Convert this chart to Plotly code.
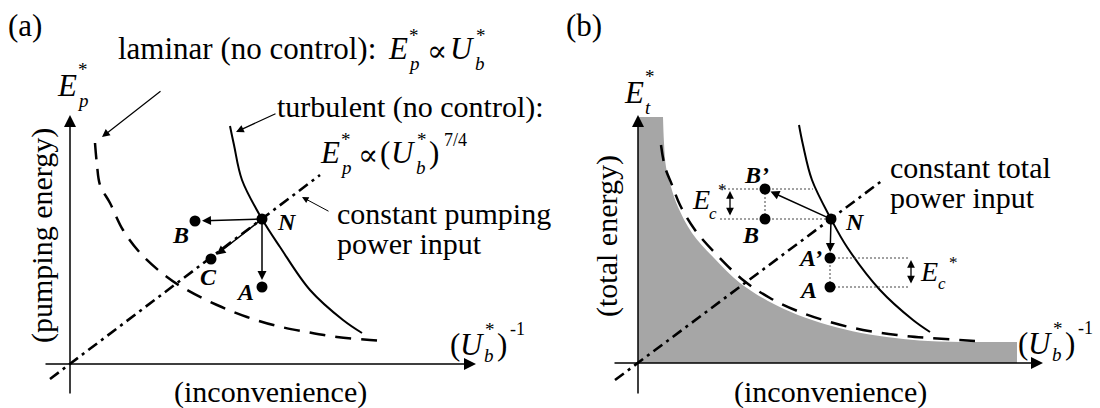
import plotly.graph_objects as go

W, H = 1100, 408
SERIF = "Liberation Serif, Times New Roman, DejaVu Serif, serif"

# ---------------- Panel (a): pumping energy vs inconvenience (schematic units) ----------------
lam_a_x = [25, 27, 30, 40, 53, 72, 97, 117, 147, 177, 207, 237, 267, 300, 313]
lam_a_y = [221, 199, 179, 161, 134, 109, 87, 74, 59, 47, 38, 32, 27, 24, 23]
turb_a_x = [160, 164, 172, 192, 210, 240, 273, 292]
turb_a_y = [238, 219, 184, 145, 117, 74, 44, 31]
cpp_x = [-20, 250]
cpp_y = [-15, 189]
pts_a_names = ["N", "B", "C", "A"]
pts_a_x = [192, 125, 141, 192]
pts_a_y = [145, 143, 105, 77]

# ---------------- Panel (b): total energy vs inconvenience ----------------
lam_b_x = [23, 27, 34, 42, 57, 79, 105, 132, 162, 192, 225, 259, 292, 337]
lam_b_y = [218, 196, 178, 158, 133, 108, 83, 65, 51, 41, 33, 28, 25, 22]
feas_x = [25, 26, 28, 33, 40, 54, 76, 102, 130, 160, 190, 223, 257, 290, 335, 379]
feas_y = [246, 220, 196, 176, 156, 130, 105, 80, 62, 48, 38, 30, 25, 22, 21, 21]
feas_top_x = [0, 25]
feas_top_y = [246, 246]
turb_b_x = [161, 165, 174, 193, 209, 242, 275, 292]
turb_b_y = [238, 218, 183, 144, 116, 73, 43, 31]
ctp_x = [-23, 245]
ctp_y = [-17, 183]
pts_b_names = ["N", "B", "B’", "A’", "A"]
pts_b_x = [193, 127, 127, 192, 192]
pts_b_y = [144, 144, 174, 105, 76]
# dotted guide segments (x0, x1, y0, y1)
guides_b = [(82, 175, 174, 174), (82, 193, 144, 144), (192, 270, 105, 105),
            (192, 270, 76, 76), (127, 127, 144, 174), (192, 192, 76, 105)]
# E_c* double arrows (x, y0, y1)
ec_arrows = [(92, 146, 172), (273, 78, 103)]

fig = go.Figure()

def line(x, y, xa, ya, dash="solid", width=2, shape="spline"):
    fig.add_trace(go.Scatter(x=x, y=y, xaxis=xa, yaxis=ya, mode="lines",
                             line=dict(color="black", width=width, dash=dash, shape=shape),
                             hoverinfo="skip", showlegend=False))

# gray feasible region (b)
fig.add_trace(go.Scatter(x=feas_top_x, y=feas_top_y, xaxis="x2", yaxis="y2", mode="lines",
                         line=dict(width=0, color="#a6a6a6"), fill="tozeroy",
                         fillcolor="#a6a6a6", showlegend=False, hoverinfo="skip"))
fig.add_trace(go.Scatter(x=feas_x, y=feas_y, xaxis="x2", yaxis="y2", mode="lines",
                         line=dict(width=0, color="#a6a6a6", shape="spline"), fill="tozeroy",
                         fillcolor="#a6a6a6", showlegend=False, hoverinfo="skip"))

DASH = "16px,10px"
DASHDOT = "11px,5px,3px,5px"

line(lam_a_x, lam_a_y, "x", "y", dash=DASH, width=2.5)
line(turb_a_x, turb_a_y, "x", "y", width=2)
line(cpp_x, cpp_y, "x", "y", dash=DASHDOT, width=2.6, shape="linear")

line(lam_b_x, lam_b_y, "x2", "y2", dash=DASH, width=2.5)
line(turb_b_x, turb_b_y, "x2", "y2", width=2)
line(ctp_x, ctp_y, "x2", "y2", dash=DASHDOT, width=2.6, shape="linear")

for x0, x1, y0, y1 in guides_b:
    fig.add_trace(go.Scatter(x=[x0, x1], y=[y0, y1], xaxis="x2", yaxis="y2", mode="lines",
                             line=dict(color="#444", width=1, dash="2px,2px"),
                             showlegend=False, hoverinfo="skip"))

fig.add_trace(go.Scatter(x=pts_a_x, y=pts_a_y, xaxis="x", yaxis="y", mode="markers",
                         marker=dict(color="black", size=11), showlegend=False, hoverinfo="skip"))
fig.add_trace(go.Scatter(x=pts_b_x, y=pts_b_y, xaxis="x2", yaxis="y2", mode="markers",
                         marker=dict(color="black", size=11), showlegend=False, hoverinfo="skip"))

ann = []

def P(px, py):
    return px / W, 1 - py / H

def txt(px, py, s, size=31, xanchor="center", angle=0, italic=False, bold=False):
    x, y = P(px, py)
    if italic:
        s = "<i>" + s + "</i>"
    if bold:
        s = "<b>" + s + "</b>"
    ann.append(dict(x=x, y=y, xref="paper", yref="paper", text=s, showarrow=False,
                    xanchor=xanchor, yanchor="middle", textangle=angle,
                    font=dict(family=SERIF, size=size, color="black")))

def sym(px, py, base, sub, sup, size=31, dsub=(16, 15), dsup=(16, -13)):
    txt(px, py, base, size=size, italic=True)
    txt(px + dsub[0], py + dsub[1], sub, size=int(size * 0.62), italic=True)
    txt(px + dsup[0], py + dsup[1], sup, size=int(size * 0.62))

def parrow(tx, ty, sx, sy, width=1.2, size=1.3):
    x, y = P(tx, ty)
    ann.append(dict(x=x, y=y, xref="paper", yref="paper", ax=sx - tx, ay=sy - ty,
                    axref="pixel", ayref="pixel", text="", showarrow=True,
                    arrowhead=2, arrowsize=size, arrowwidth=width, arrowcolor="black"))

def darrow(xa, ya, x, y, ax, ay, standoff=0, width=1.5, size=1.2, head=2, side="end"):
    ann.append(dict(x=x, y=y, xref=xa, yref=ya, ax=ax, ay=ay, axref=xa, ayref=ya,
                    text="", showarrow=True, arrowhead=head, startarrowhead=head,
                    arrowsize=size, startarrowsize=size, arrowwidth=width, arrowcolor="black",
                    standoff=standoff, arrowside=side))

# axes arrows
darrow("x", "y", 406, 0, -26, 0, width=1.5, size=1.6)
darrow("x", "y", 0, 249, 0, -31, width=1.5, size=1.6)
darrow("x2", "y2", 405, 0, -25, 0, width=1.5, size=1.6)
darrow("x2", "y2", 0, 248, 0, -32, width=1.5, size=1.6)

# control arrows from N
na = pts_a_names.index("N")
for nm in ["B", "C", "A"]:
    i = pts_a_names.index(nm)
    darrow("x", "y", pts_a_x[i], pts_a_y[i], pts_a_x[na], pts_a_y[na], standoff=7)
nb = pts_b_names.index("N")
for nm in ["B’", "A’"]:
    i = pts_b_names.index(nm)
    darrow("x2", "y2", pts_b_x[i], pts_b_y[i], pts_b_x[nb], pts_b_y[nb], standoff=6)
for x, y0, y1 in ec_arrows:
    darrow("x2", "y2", x, y1, x, y0, width=1.3, size=1.2, side="end+start")

# ---------------- texts panel (a) ----------------
txt(25, 25, "(a)")
txt(116, 48, "laminar (no control):", xanchor="left")
sym(398, 48, "E", "p", "*")
txt(437, 50, "∝", size=30)
sym(462, 48, "U", "b", "*", dsub=(18, 15), dsup=(19, -13))
parrow(102, 137, 162, 90)
txt(275, 107, "turbulent (no control):", xanchor="left", size=30)
parrow(236, 132, 277, 113)
sym(330, 152, "E", "p", "*")
txt(368, 154, "∝", size=30)
txt(385, 152, "(")
sym(403, 152, "U", "b", "*", dsub=(18, 15), dsup=(19, -13))
txt(434, 152, ")")
txt(442, 140, "7/4", size=18, xanchor="left")
sym(67, 85, "E", "p", "*", dsup=(16, -16))
txt(42, 236, "(pumping energy)", angle=-90, size=30)
txt(270, 392, "(inconvenience)", size=30)
txt(455, 344, "(")
sym(472, 344, "U", "b", "*", dsub=(17, 11), dsup=(18, -15))
txt(502, 344, ")")
txt(508, 329, "-1", size=18, xanchor="left")
txt(335, 213, "constant pumping", xanchor="left", size=30)
txt(335, 243, "power input", xanchor="left", size=30)
parrow(302, 197, 330, 212, width=1, size=1.3)
for nm, px, py in [("N", 287, 222), ("B", 180, 235), ("C", 208, 277), ("A", 245, 292)]:
    txt(px, py, nm, size=24, italic=True, bold=True)

# ---------------- texts panel (b) ----------------
txt(584, 25, "(b)")
sym(634, 93, "E", "t", "*", dsub=(14, 15), dsup=(16, -17))
txt(607, 236, "(total energy)", angle=-90, size=30)
txt(830, 392, "(inconvenience)", size=30)
txt(1023, 343, "(")
sym(1040, 343, "U", "b", "*", dsub=(17, 11), dsup=(18, -15))
txt(1070, 343, ")")
txt(1076, 328, "-1", size=18, xanchor="left")
txt(888, 167, "constant total", xanchor="left", size=30)
txt(888, 197, "power input", xanchor="left", size=30)
sym(701, 199, "E", "c", "*", size=28, dsub=(12, 14), dsup=(21, -10))
sym(929, 271, "E", "c", "*", size=28, dsub=(13, 12), dsup=(24, -9))
for nm, px, py in [("B’", 756, 175), ("B", 750, 235), ("N", 855, 222), ("A’", 810, 258), ("A", 808, 290)]:
    txt(px, py, nm, size=24, italic=True, bold=True)

ax_common = dict(visible=False, showgrid=False, zeroline=False, fixedrange=True)
fig.update_layout(
    width=W, height=H, margin=dict(l=0, r=0, t=0, b=0),
    paper_bgcolor="white", plot_bgcolor="white",
    xaxis=dict(domain=[0, 0.5], range=[-70, 480], anchor="y", **ax_common),
    yaxis=dict(domain=[0, 1], range=[-44, 364], anchor="x", **ax_common),
    xaxis2=dict(domain=[0.5, 1], range=[-88, 462], anchor="y2", **ax_common),
    yaxis2=dict(domain=[0, 1], range=[-45, 363], anchor="x2", **ax_common),
    annotations=ann,
)
fig.write_html("out.html", config={"displayModeBar": False},
               post_script="document.body.style.margin='0';document.body.style.overflow='hidden';")
